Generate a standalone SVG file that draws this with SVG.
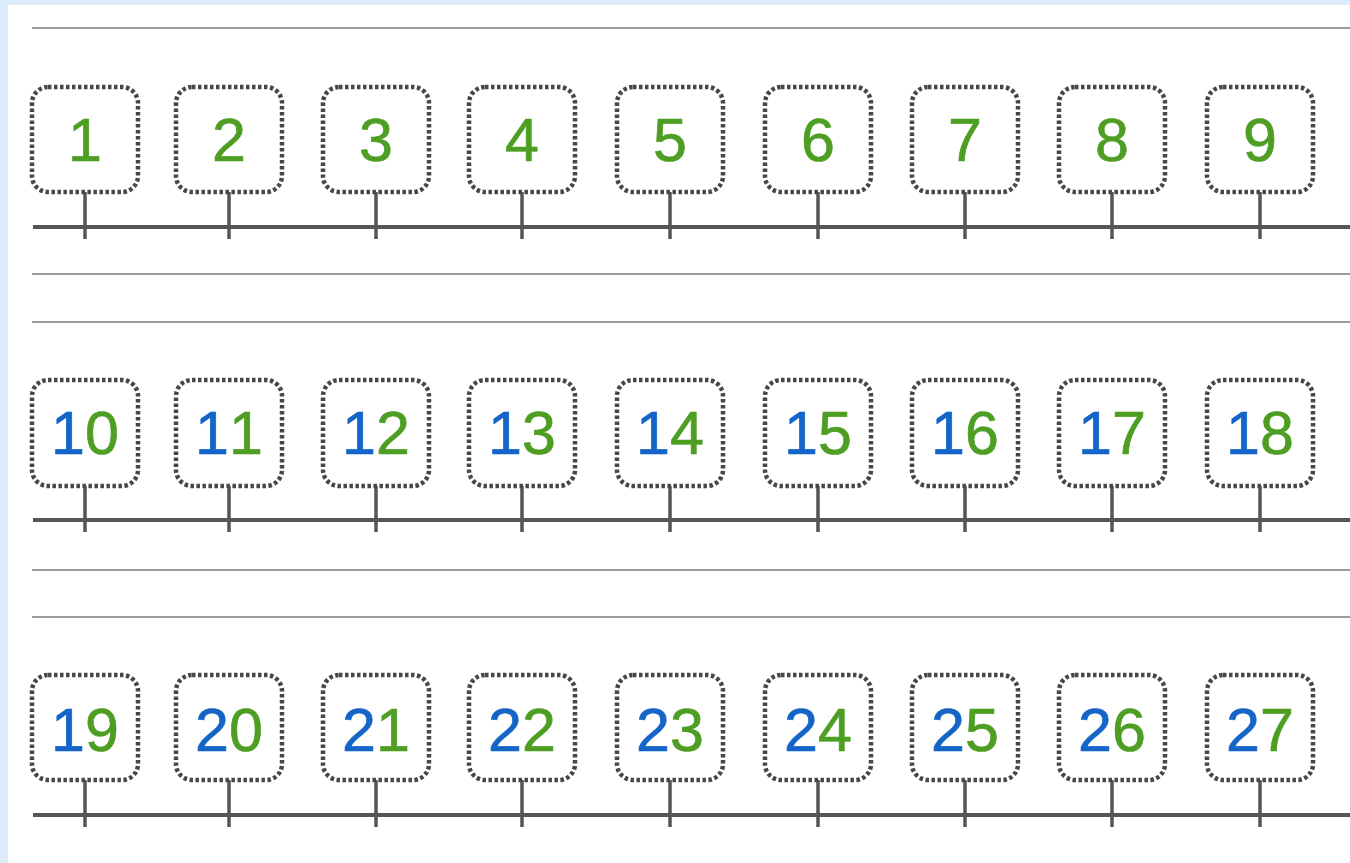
<svg xmlns="http://www.w3.org/2000/svg" width="1350" height="863" viewBox="0 0 1350 863">
<style>
.bg{fill:#dcecfb}
.panel{fill:#ffffff}
.rule{stroke:#7a7a7a;stroke-width:1.5}
.box{fill:#ffffff;stroke:#474747;stroke-width:4.5;stroke-dasharray:3.5 2.5}
.axis{stroke:#555555;stroke-width:4}
.tick{stroke:#555555;stroke-width:3.5}
.num{font-family:"Liberation Sans",Arial,sans-serif;font-size:61px;text-anchor:middle;font-kerning:none;stroke-width:0.7}
.t{fill:#1565c8;stroke:#1565c8}
.o{fill:#4e9e23;stroke:#4e9e23}
</style>
<rect class="bg" x="0" y="0" width="1350" height="863"/>
<rect class="panel" x="8" y="5" width="1342" height="858"/>
<g id="rules">
<line class="rule" x1="32" y1="28" x2="1350" y2="28"/>
<line class="rule" x1="32" y1="274" x2="1350" y2="274"/>
<line class="rule" x1="32" y1="322" x2="1350" y2="322"/>
<line class="rule" x1="32" y1="570" x2="1350" y2="570"/>
<line class="rule" x1="32" y1="617" x2="1350" y2="617"/>
</g>
<g id="connectors">
<line class="axis" x1="33" y1="227" x2="1350" y2="227"/>
<line class="axis" x1="33" y1="520" x2="1350" y2="520"/>
<line class="axis" x1="33" y1="815" x2="1350" y2="815"/>
<line class="tick" x1="85" y1="192" x2="85" y2="239"/><line class="tick" x1="229" y1="192" x2="229" y2="239"/><line class="tick" x1="376" y1="192" x2="376" y2="239"/><line class="tick" x1="522" y1="192" x2="522" y2="239"/><line class="tick" x1="670" y1="192" x2="670" y2="239"/><line class="tick" x1="818" y1="192" x2="818" y2="239"/><line class="tick" x1="965" y1="192" x2="965" y2="239"/><line class="tick" x1="1112" y1="192" x2="1112" y2="239"/><line class="tick" x1="1260" y1="192" x2="1260" y2="239"/>
<line class="tick" x1="85" y1="486" x2="85" y2="532"/><line class="tick" x1="229" y1="486" x2="229" y2="532"/><line class="tick" x1="376" y1="486" x2="376" y2="532"/><line class="tick" x1="522" y1="486" x2="522" y2="532"/><line class="tick" x1="670" y1="486" x2="670" y2="532"/><line class="tick" x1="818" y1="486" x2="818" y2="532"/><line class="tick" x1="965" y1="486" x2="965" y2="532"/><line class="tick" x1="1112" y1="486" x2="1112" y2="532"/><line class="tick" x1="1260" y1="486" x2="1260" y2="532"/>
<line class="tick" x1="85" y1="780" x2="85" y2="827"/><line class="tick" x1="229" y1="780" x2="229" y2="827"/><line class="tick" x1="376" y1="780" x2="376" y2="827"/><line class="tick" x1="522" y1="780" x2="522" y2="827"/><line class="tick" x1="670" y1="780" x2="670" y2="827"/><line class="tick" x1="818" y1="780" x2="818" y2="827"/><line class="tick" x1="965" y1="780" x2="965" y2="827"/><line class="tick" x1="1112" y1="780" x2="1112" y2="827"/><line class="tick" x1="1260" y1="780" x2="1260" y2="827"/>
</g>
<g id="n1"><rect class="box" x="32" y="87" width="106" height="105" rx="16"/><text class="num" x="85" y="161"><tspan class="o">1</tspan></text></g>
<g id="n2"><rect class="box" x="176" y="87" width="106" height="105" rx="16"/><text class="num" x="229" y="161"><tspan class="o">2</tspan></text></g>
<g id="n3"><rect class="box" x="323" y="87" width="106" height="105" rx="16"/><text class="num" x="376" y="161"><tspan class="o">3</tspan></text></g>
<g id="n4"><rect class="box" x="469" y="87" width="106" height="105" rx="16"/><text class="num" x="522" y="161"><tspan class="o">4</tspan></text></g>
<g id="n5"><rect class="box" x="617" y="87" width="106" height="105" rx="16"/><text class="num" x="670" y="161"><tspan class="o">5</tspan></text></g>
<g id="n6"><rect class="box" x="765" y="87" width="106" height="105" rx="16"/><text class="num" x="818" y="161"><tspan class="o">6</tspan></text></g>
<g id="n7"><rect class="box" x="912" y="87" width="106" height="105" rx="16"/><text class="num" x="965" y="161"><tspan class="o">7</tspan></text></g>
<g id="n8"><rect class="box" x="1059" y="87" width="106" height="105" rx="16"/><text class="num" x="1112" y="161"><tspan class="o">8</tspan></text></g>
<g id="n9"><rect class="box" x="1207" y="87" width="106" height="105" rx="16"/><text class="num" x="1260" y="161"><tspan class="o">9</tspan></text></g>
<g id="n10"><rect class="box" x="32" y="380" width="106" height="106" rx="16"/><text class="num" x="85" y="454"><tspan class="t">1</tspan><tspan class="o">0</tspan></text></g>
<g id="n11"><rect class="box" x="176" y="380" width="106" height="106" rx="16"/><text class="num" x="229" y="454"><tspan class="t">1</tspan><tspan class="o">1</tspan></text></g>
<g id="n12"><rect class="box" x="323" y="380" width="106" height="106" rx="16"/><text class="num" x="376" y="454"><tspan class="t">1</tspan><tspan class="o">2</tspan></text></g>
<g id="n13"><rect class="box" x="469" y="380" width="106" height="106" rx="16"/><text class="num" x="522" y="454"><tspan class="t">1</tspan><tspan class="o">3</tspan></text></g>
<g id="n14"><rect class="box" x="617" y="380" width="106" height="106" rx="16"/><text class="num" x="670" y="454"><tspan class="t">1</tspan><tspan class="o">4</tspan></text></g>
<g id="n15"><rect class="box" x="765" y="380" width="106" height="106" rx="16"/><text class="num" x="818" y="454"><tspan class="t">1</tspan><tspan class="o">5</tspan></text></g>
<g id="n16"><rect class="box" x="912" y="380" width="106" height="106" rx="16"/><text class="num" x="965" y="454"><tspan class="t">1</tspan><tspan class="o">6</tspan></text></g>
<g id="n17"><rect class="box" x="1059" y="380" width="106" height="106" rx="16"/><text class="num" x="1112" y="454"><tspan class="t">1</tspan><tspan class="o">7</tspan></text></g>
<g id="n18"><rect class="box" x="1207" y="380" width="106" height="106" rx="16"/><text class="num" x="1260" y="454"><tspan class="t">1</tspan><tspan class="o">8</tspan></text></g>
<g id="n19"><rect class="box" x="32" y="675" width="106" height="105" rx="16"/><text class="num" x="85" y="751"><tspan class="t">1</tspan><tspan class="o">9</tspan></text></g>
<g id="n20"><rect class="box" x="176" y="675" width="106" height="105" rx="16"/><text class="num" x="229" y="751"><tspan class="t">2</tspan><tspan class="o">0</tspan></text></g>
<g id="n21"><rect class="box" x="323" y="675" width="106" height="105" rx="16"/><text class="num" x="376" y="751"><tspan class="t">2</tspan><tspan class="o">1</tspan></text></g>
<g id="n22"><rect class="box" x="469" y="675" width="106" height="105" rx="16"/><text class="num" x="522" y="751"><tspan class="t">2</tspan><tspan class="o">2</tspan></text></g>
<g id="n23"><rect class="box" x="617" y="675" width="106" height="105" rx="16"/><text class="num" x="670" y="751"><tspan class="t">2</tspan><tspan class="o">3</tspan></text></g>
<g id="n24"><rect class="box" x="765" y="675" width="106" height="105" rx="16"/><text class="num" x="818" y="751"><tspan class="t">2</tspan><tspan class="o">4</tspan></text></g>
<g id="n25"><rect class="box" x="912" y="675" width="106" height="105" rx="16"/><text class="num" x="965" y="751"><tspan class="t">2</tspan><tspan class="o">5</tspan></text></g>
<g id="n26"><rect class="box" x="1059" y="675" width="106" height="105" rx="16"/><text class="num" x="1112" y="751"><tspan class="t">2</tspan><tspan class="o">6</tspan></text></g>
<g id="n27"><rect class="box" x="1207" y="675" width="106" height="105" rx="16"/><text class="num" x="1260" y="751"><tspan class="t">2</tspan><tspan class="o">7</tspan></text></g>
</svg>
